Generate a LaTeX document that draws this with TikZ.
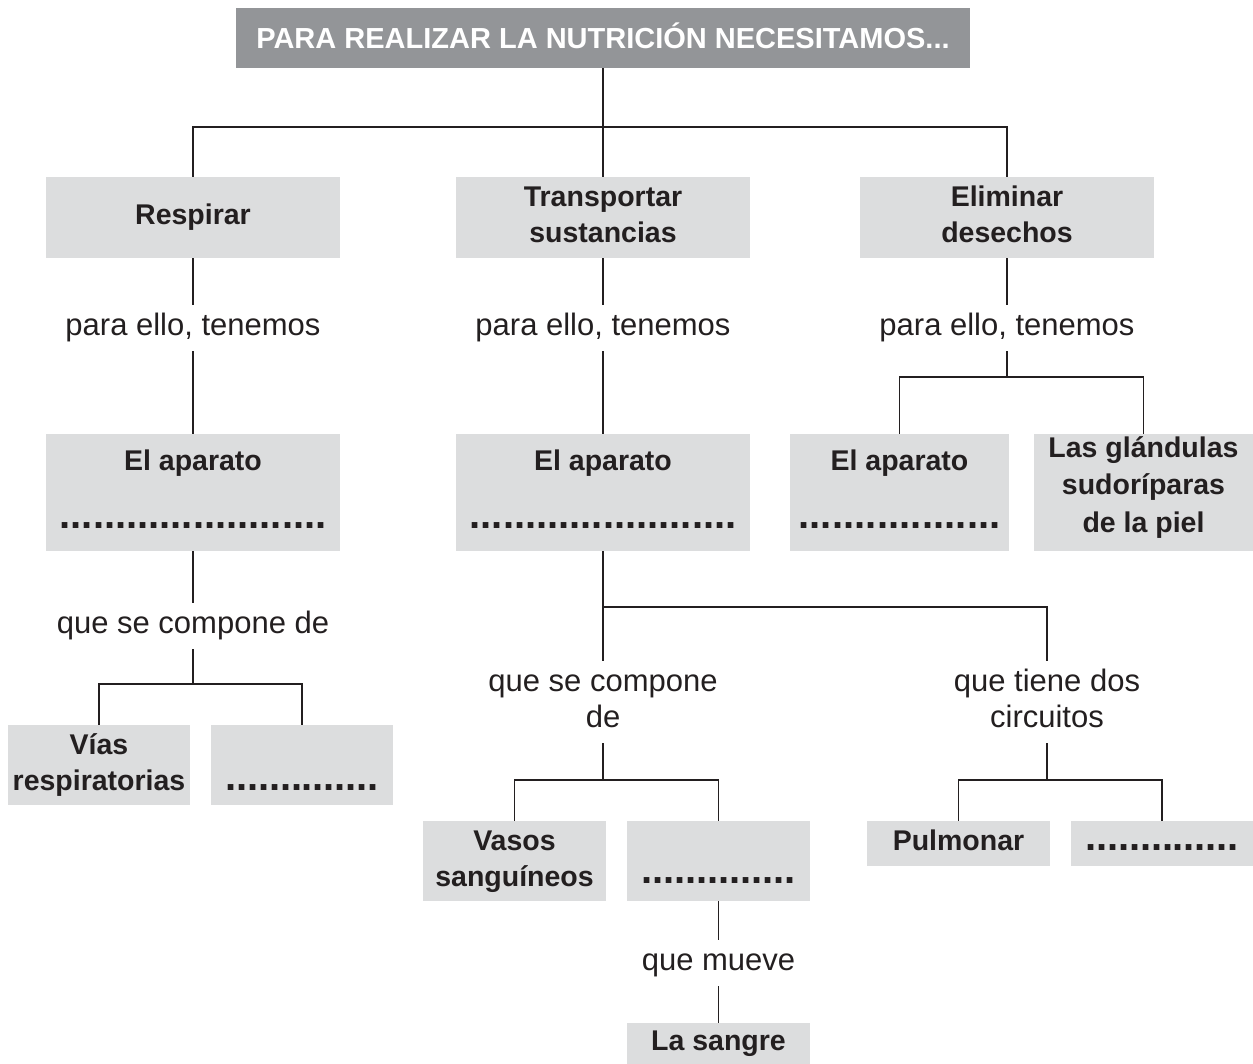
\documentclass[tikz,border=0pt]{standalone}
\usepackage{fontspec}
\setmainfont{Liberation Sans}
\definecolor{boxgray}{HTML}{DCDDDE}
\definecolor{titlegray}{HTML}{939598}
\definecolor{ink}{HTML}{231F20}
\newcommand\dotrow[1]{\hbox to #1{\fontsize{40}{40}\selectfont\xleaders\hbox to 10.7pt{\hss.\hss}\hfil}}
\begin{document}
\begin{tikzpicture}[x=1pt,y=-1pt,
  box/.style={fill=boxgray, inner sep=0pt, align=center, text=ink, font=\fontsize{28.5}{36}\bfseries\selectfont},
  lbl/.style={inner xsep=2pt, inner ysep=5pt, align=center, text=ink, font=\fontsize{31}{36}\selectfont},
  conn/.style={draw=ink, line width=1.2pt}]
\useasboundingbox (0,0) rectangle (1253,1064);

% title
\node[fill=titlegray, minimum width=734pt, minimum height=60pt, inner sep=0pt, text=white,
      font=\fontsize{29}{36}\bfseries\selectfont, text height=21pt, text depth=0pt]
      (title) at (603,38) {PARA REALIZAR LA NUTRICIÓN NECESITAMOS...};

% first row
\node[box, minimum width=294pt, minimum height=81pt] (resp) at (193,217.5) {\strut Respirar};
\node[box, minimum width=294pt, minimum height=81pt] (trans) at (603,217.5) {\strut Transportar\\\strut sustancias};
\node[box, minimum width=294pt, minimum height=81pt] (elim) at (1007,217.5) {\strut Eliminar\\\strut desechos};

% labels "para ello, tenemos"
\node[lbl] (lab1) at (193,328) {\strut para ello, tenemos};
\node[lbl] (lab2) at (603,328) {\strut para ello, tenemos};
\node[lbl] (lab3) at (1007,328) {\strut para ello, tenemos};

% second row
\node[box, minimum width=294pt, minimum height=117pt] (app1) at (193,492.5) {\strut El aparato\\[22pt]\strut\dotrow{267pt}};
\node[box, minimum width=294pt, minimum height=117pt] (app2) at (603,492.5) {\strut El aparato\\[22pt]\strut\dotrow{267pt}};
\node[box, minimum width=219pt, minimum height=117pt] (app3) at (899.5,492.5) {\strut El aparato\\[22pt]\strut\dotrow{203pt}};
\node[box, minimum width=219pt, minimum height=117pt, font=\fontsize{28.5}{37.5}\bfseries\selectfont]
      (gland) at (1143.5,492.5) {\rule{0pt}{21pt}Las glándulas\\\strut sudoríparas\\\rule[-17pt]{0pt}{17pt}de la piel};

% left branch
\node[lbl] (lab4) at (193,626) {\strut que se compone de};
\node[box, minimum width=182pt, minimum height=80pt] (vias) at (99,765) {\strut Vías\\\strut respiratorias};
\node[box, minimum width=182pt, minimum height=80pt] (ldots) at (302,765) {\strut\vphantom{Vías}\\\strut\dotrow{154pt}};

% middle branch
\node[lbl] (lab5) at (603,702) {\strut que se compone\\\strut de};
\node[lbl] (lab6) at (1047,702) {\strut que tiene dos\\\strut circuitos};
\node[box, minimum width=183pt, minimum height=80pt] (vasos) at (514.5,861) {\strut Vasos\\\strut sanguíneos};
\node[box, minimum width=183pt, minimum height=80pt] (sdots) at (718.5,861) {\strut\vphantom{Vasos}\\[-6pt]\strut\dotrow{154pt}};
\node[box, minimum width=183pt, minimum height=45pt] (pulm) at (958.5,843.5) {\strut Pulmonar};
\node[box, minimum width=182pt, minimum height=45pt] (pdots) at (1162,843.5) {\strut\dotrow{153pt}};
\node[lbl] (lab7) at (718.5,963) {\strut que mueve};
\node[box, minimum width=183pt, minimum height=41pt] (sangre) at (718.5,1043.5) {\strut La sangre};

% junctions
\coordinate (j0) at (603,127);
\coordinate (j3) at (1007,377);
\coordinate (j4) at (193,684);
\coordinate (j5) at (603,607);
\coordinate (j6) at (603,780);
\coordinate (j7) at (1047,780);

% connectors
\draw[conn] (title.south) -- (trans.north);
\draw[conn] (resp.north) |- (j0) -| (elim.north);
\draw[conn] (resp.south) -- (lab1.north);
\draw[conn] (lab1.south) -- (app1.north);
\draw[conn] (trans.south) -- (lab2.north);
\draw[conn] (lab2.south) -- (app2.north);
\draw[conn] (elim.south) -- (lab3.north);
\draw[conn] (lab3.south) -- (j3);
\draw[conn] (app3.north) |- (j3) -| (gland.north);

\draw[conn] (app1.south) -- (lab4.north);
\draw[conn] (lab4.south) -- (j4);
\draw[conn] (vias.north) |- (j4) -| (ldots.north);

\draw[conn] (app2.south) -- (lab5.north);
\draw[conn] (j5) -| (lab6.north);
\draw[conn] (lab5.south) -- (j6);
\draw[conn] (vasos.north) |- (j6) -| (sdots.north);
\draw[conn] (lab6.south) -- (j7);
\draw[conn] (pulm.north) |- (j7) -| (pdots.north);
\draw[conn] (sdots.south) -- (lab7.north);
\draw[conn] (lab7.south) -- (sangre.north);
\end{tikzpicture}
\end{document}
